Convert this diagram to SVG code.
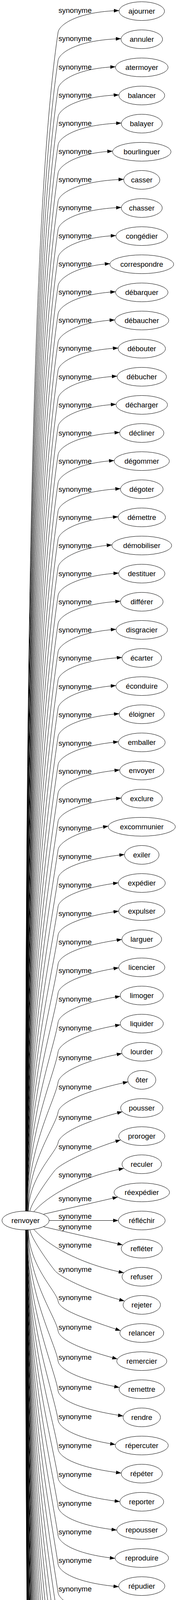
<svg xmlns="http://www.w3.org/2000/svg" width="482" height="6251" viewBox="0 0 482 6251">
<style>
.nd ellipse{fill:none;stroke:#000;stroke-width:1}
text{font-family:"Liberation Sans",Arial,sans-serif;font-size:18.67px;text-anchor:middle;fill:#000}
#edges path{fill:none;stroke:#000;stroke-width:1;marker-end:url(#ah)}
</style>
<defs>
<marker id="ah" viewBox="0 0 13.3 9.34" refX="13.3" refY="4.67" markerWidth="13.3" markerHeight="9.34" markerUnits="userSpaceOnUse" orient="auto"><path d="M0,0 L13.3,4.67 L0,9.34 Z" fill="#000"/></marker>
</defs>
<rect width="482" height="6251" fill="#fff"/>
<g id="edges">
<g id="e1"><path d="M65.5,3101 C65.5,1591.5 85.6,504.7 149,82 C153,62 200,30 305.3,27"/><text x="192.5" y="33.3">synonyme</text></g>
<g id="e2"><path d="M65.6,3101 C65.6,1627.5 87.1,566.7 149,154.1 C153,134.1 200,102.2 310.3,99"/><text x="192.5" y="105.4">synonyme</text></g>
<g id="e3"><path d="M65.7,3101 C65.7,1663.6 88.6,628.7 149,226.2 C153,206.2 200,174.4 296.1,171"/><text x="192.5" y="177.5">synonyme</text></g>
<g id="e4"><path d="M65.9,3101 C65.9,1699.7 90.1,690.7 149,298.3 C153,278.3 200,246.5 304.8,243"/><text x="192.5" y="249.6">synonyme</text></g>
<g id="e5"><path d="M66,3101 C66,1735.7 91.7,752.7 149,370.4 C153,350.4 200,318.7 311.1,315"/><text x="192.5" y="321.7">synonyme</text></g>
<g id="e6"><path d="M66.1,3101 C66.1,1771.8 93.2,814.7 149,442.5 C153,422.5 200,390.9 288.6,387"/><text x="192.5" y="393.8">synonyme</text></g>
<g id="e7"><path d="M66.2,3101 C66.2,1807.8 94.7,876.6 149,514.5 C153,494.5 200,463.1 317.3,459"/><text x="192.5" y="465.8">synonyme</text></g>
<g id="e8"><path d="M66.3,3101 C66.3,1843.8 96.2,938.6 149,586.6 C153,566.6 200,535.3 311.1,531"/><text x="192.5" y="537.9">synonyme</text></g>
<g id="e9"><path d="M66.5,3101 C66.5,1879.9 97.7,1000.6 149,658.7 C153,638.7 200,607.4 297.3,603"/><text x="192.5" y="610">synonyme</text></g>
<g id="e10"><path d="M66.6,3101 C66.6,1915.9 99.2,1062.6 149,730.8 C153,710.8 200,679.6 281.9,675"/><text x="192.5" y="682.1">synonyme</text></g>
<g id="e11"><path d="M66.7,3101 C66.7,1952 100.7,1124.6 149,802.9 C153,782.9 200,751.8 296.3,747"/><text x="192.5" y="754.2">synonyme</text></g>
<g id="e12"><path d="M66.8,3101 C66.8,1988 102.3,1186.6 149,875 C153,855 200,824 294.4,819"/><text x="192.5" y="826.3">synonyme</text></g>
<g id="e13"><path d="M66.9,3101 C66.9,2024.1 103.8,1248.6 149,947.1 C153,927.1 200,896.2 302.8,891"/><text x="192.5" y="898.4">synonyme</text></g>
<g id="e14"><path d="M67.1,3101 C67.1,2060.1 105.3,1310.7 149,1019.2 C153,999.2 200,968.3 300.3,963"/><text x="192.5" y="970.5">synonyme</text></g>
<g id="e15"><path d="M67.2,3101 C67.2,2096.2 106.8,1372.7 149,1091.3 C153,1071.3 200,1040.5 297.6,1035"/><text x="192.5" y="1042.6">synonyme</text></g>
<g id="e16"><path d="M67.3,3101 C67.3,2132.2 108.3,1434.7 149,1163.4 C153,1143.4 200,1112.7 306.9,1107"/><text x="192.5" y="1114.7">synonyme</text></g>
<g id="e17"><path d="M67.4,3101 C67.4,2168.2 109.8,1496.6 149,1235.4 C153,1215.4 200,1184.9 292.8,1179"/><text x="192.5" y="1186.7">synonyme</text></g>
<g id="e18"><path d="M67.5,3101 C67.5,2204.3 111.3,1558.6 149,1307.5 C153,1287.5 200,1257.1 308.9,1251"/><text x="192.5" y="1258.8">synonyme</text></g>
<g id="e19"><path d="M67.7,3101 C67.7,2240.3 112.9,1620.6 149,1379.6 C153,1359.6 200,1329.2 302.8,1323"/><text x="192.5" y="1330.9">synonyme</text></g>
<g id="e20"><path d="M67.8,3101 C67.8,2276.4 114.4,1682.6 149,1451.7 C153,1431.7 200,1401.4 286.9,1395"/><text x="192.5" y="1403">synonyme</text></g>
<g id="e21"><path d="M67.9,3101 C67.9,2312.4 115.9,1744.6 149,1523.8 C153,1503.8 200,1473.6 304.3,1467"/><text x="192.5" y="1475.1">synonyme</text></g>
<g id="e22"><path d="M68,3101 C68,2348.5 117.4,1806.6 149,1595.9 C153,1575.9 200,1545.8 308.9,1539"/><text x="192.5" y="1547.2">synonyme</text></g>
<g id="e23"><path d="M68.1,3101 C68.1,2384.5 118.9,1868.6 149,1668 C153,1648 200,1618 297.6,1611"/><text x="192.5" y="1619.3">synonyme</text></g>
<g id="e24"><path d="M68.3,3101 C68.3,2420.6 120.4,1930.6 149,1740.1 C153,1720.1 200,1690.1 312.8,1683"/><text x="192.5" y="1691.4">synonyme</text></g>
<g id="e25"><path d="M68.4,3101 C68.4,2456.6 121.9,1992.6 149,1812.2 C153,1792.2 200,1762.3 297.3,1755"/><text x="192.5" y="1763.5">synonyme</text></g>
<g id="e26"><path d="M68.5,3101 C68.5,2492.9 123.5,2055 149,1884.7 C153,1864.7 200,1835.4 305.6,1827"/><text x="192.5" y="1836">synonyme</text></g>
<g id="e27"><path d="M68.6,3101 C68.6,2529.1 125,2117.3 149,1957.2 C153,1937.2 200,1908.4 303.6,1899"/><text x="192.5" y="1908.5">synonyme</text></g>
<g id="e28"><path d="M68.7,3101 C68.7,2565.4 126.5,2179.7 149,2029.7 C153,2009.7 200,1981.4 306.9,1971"/><text x="192.5" y="1981">synonyme</text></g>
<g id="e29"><path d="M68.9,3101 C68.9,2601.6 128,2242 149,2102.2 C153,2082.2 200,2054.4 310.9,2043"/><text x="192.5" y="2053.5">synonyme</text></g>
<g id="e30"><path d="M69,3101 C69,2637.9 129.5,2304.5 149,2174.8 C153,2154.8 200,2127.6 277.6,2115"/><text x="192.5" y="2126.1">synonyme</text></g>
<g id="e31"><path d="M69.1,3101 C69.1,2674.3 131.1,2367 149,2247.5 C153,2227.5 200,2200.5 319.3,2187.5"/><text x="192.5" y="2198.8">synonyme</text></g>
<g id="e32"><path d="M69.2,3101 C69.2,2710.6 132.6,2429.5 149,2320.2 C153,2300.2 200,2273.4 303.3,2260"/><text x="192.5" y="2271.5">synonyme</text></g>
<g id="e33"><path d="M69.3,3101 C69.3,2747.1 134.1,2492.3 149,2393.2 C153,2373.2 200,2346.9 304.3,2332.5"/><text x="192.5" y="2344.5">synonyme</text></g>
<g id="e34"><path d="M69.5,3101 C69.5,2784.1 135.7,2555.9 149,2467.2 C153,2447.2 200,2420 312.5,2405"/><text x="192.5" y="2417.5">synonyme</text></g>
<g id="e35"><path d="M69.6,3101 C69.6,2820.3 137.3,2619.8 149,2541.5 C153,2521.5 200,2493.8 304.4,2477.5"/><text x="192.5" y="2490.8">synonyme</text></g>
<g id="e36"><path d="M69.7,3101 C69.7,2858.8 138.8,2684.3 149,2616.5 C153,2596.5 200,2567.2 308.4,2550.5"/><text x="192.5" y="2564.3">synonyme</text></g>
<g id="e37"><path d="M69.8,3101 C69.8,2896.7 140.4,2749.5 149,2692.3 C153,2672.3 200,2641.1 308.6,2623.5"/><text x="192.5" y="2638.1">synonyme</text></g>
<g id="e38"><path d="M71,3101 C71,2935.5 142,2816.3 149,2769.9 C153,2749.9 200,2718 312.7,2697"/><text x="192.5" y="2713.7">synonyme</text></g>
<g id="e39"><path d="M72,3101 C72,2973.8 143.7,2882.2 149,2846.6 C153,2826.6 200,2796.6 328.3,2769.5"/><text x="192.5" y="2789.4">synonyme</text></g>
<g id="e40"><path d="M73,3101 C73,3013 145.3,2949.6 149,2924.9 C153,2904.9 200,2875.5 313.7,2846"/><text x="192.5" y="2867.2">synonyme</text></g>
<g id="e41"><path d="M76.7,3100.5 C80,3080 118,3025 140,2997 C155.5,2977.3 238.9,2938.7 309.3,2918.2"/><text x="192.5" y="2942.2">synonyme</text></g>
<g id="e42"><path d="M86.7,3102 C125,3058 210,3012 317.6,2991"/><text x="192.5" y="3014.3">synonyme</text></g>
<g id="e43"><path d="M111.7,3108.3 L301.8,3064.5"/><text x="192.5" y="3074.8">synonyme</text></g>
<g id="e44"><path d="M126,3124.5 L303.5,3124.5"/><text x="192.5" y="3119.5">synonyme</text></g>
<g id="e45"><path d="M111.7,3140.5 L314.5,3187"/><text x="192.5" y="3146.9">synonyme</text></g>
<g id="e46"><path d="M86.7,3147 C125,3191 210,3237 317.6,3258.3"/><text x="192.5" y="3194.4">synonyme</text></g>
<g id="e47"><path d="M76.7,3148.5 C80,3169 118,3224 140,3252 C155.5,3271.7 240,3310.3 319,3330.5"/><text x="192.5" y="3256.4">synonyme</text></g>
<g id="e48"><path d="M73,3148.2 C73,3239.7 145.2,3305.6 149,3331.2 C153,3351.2 195,3368.7 309,3406.5"/><text x="192.5" y="3327.7">synonyme</text></g>
<g id="e49"><path d="M72,3148.2 C72,3277.9 143.6,3371.3 149,3407.6 C153,3427.6 195,3450.9 301,3479"/><text x="192.5" y="3404.1">synonyme</text></g>
<g id="e50"><path d="M71,3148.2 C71,3316.5 141.9,3437.7 149,3484.8 C153,3504.8 195,3530.2 306.2,3552"/><text x="192.5" y="3481.3">synonyme</text></g>
<g id="e51"><path d="M69.8,3148.2 C69.8,3354.7 140.3,3503.3 149,3561.1 C153,3581.1 195,3606.7 316,3625"/><text x="192.5" y="3557.6">synonyme</text></g>
<g id="e52"><path d="M69.7,3148.2 C69.7,3392.2 138.8,3567.8 149,3636.1 C153,3656.1 195,3682.3 295.8,3698"/><text x="192.5" y="3632.6">synonyme</text></g>
<g id="e53"><path d="M69.6,3148.2 C69.6,3429.4 137.2,3631.8 149,3710.5 C153,3730.5 195,3757.1 310.8,3771"/><text x="192.5" y="3707">synonyme</text></g>
<g id="e54"><path d="M69.5,3148.2 C69.5,3466.4 135.6,3695.4 149,3784.5 C153,3804.5 195,3831.4 307.3,3844"/><text x="192.5" y="3781">synonyme</text></g>
<g id="e55"><path d="M69.3,3148.2 C69.3,3503.2 134.1,3758.8 149,3858.2 C153,3878.2 195,3905.1 299.3,3917"/><text x="192.5" y="3854.7">synonyme</text></g>
<g id="e56"><path d="M69.2,3148.2 C69.2,3539.9 132.5,3821.9 149,3931.6 C153,3951.6 195,3978.9 294.9,3989.5"/><text x="192.5" y="3928.1">synonyme</text></g>
<g id="e57"><path d="M69.1,3148.2 C69.1,3576.5 131,3884.9 149,4004.8 C153,4024.8 195,4052.3 304.4,4062"/><text x="192.5" y="4001.3">synonyme</text></g>
<g id="e58"><path d="M69,3148.2 C69,3613 129.5,3947.7 149,4077.8 C153,4097.8 195,4125.4 303.4,4134.5"/><text x="192.5" y="4074.3">synonyme</text></g>
<g id="e59"><path d="M68.9,3148.2 C68.9,3649.4 127.9,4010.3 149,4150.6 C153,4170.6 195,4198.2 308.5,4207"/><text x="192.5" y="4147.1">synonyme</text></g>
<g id="e60"><path d="M68.7,3148.2 C68.7,3685.8 126.4,4072.8 149,4223.3 C153,4243.3 195,4270.9 311.6,4279.5"/><text x="192.5" y="4219.8">synonyme</text></g>
<g id="e61"><path d="M68.6,3148.2 C68.6,3722.1 124.9,4135.2 149,4295.9 C153,4315.9 195,4343.9 302,4351.5"/><text x="192.5" y="4292.4">synonyme</text></g>
<g id="e62"><path d="M68.5,3148.2 C68.5,3758.3 123.4,4197.6 149,4368.4 C153,4388.4 195,4416.6 294.1,4423.5"/><text x="192.5" y="4364.9">synonyme</text></g>
<g id="e63"><path d="M68.4,3148.2 C68.4,3794.5 121.9,4259.8 149,4440.8 C153,4460.8 195,4489.4 302.3,4495.5"/><text x="192.5" y="4437.3">synonyme</text></g>
<g id="e64"><path d="M68.3,3148.2 C68.3,3830.7 120.3,4322.1 149,4513.2 C153,4533.2 195,4562 314.7,4567.5"/><text x="192.5" y="4509.7">synonyme</text></g>
<g id="e65"><path d="M68.1,3148.2 C68.1,3866.9 118.8,4384.3 149,4585.5 C153,4605.5 195,4634.6 307.8,4639.5"/><text x="192.5" y="4582">synonyme</text></g>
<g id="e66"><path d="M68,3148.2 C68,3903 117.3,4446.5 149,4657.8 C153,4677.8 195,4707 297,4711.5"/><text x="192.5" y="4654.3">synonyme</text></g>
<g id="e67"><path d="M67.9,3148.2 C67.9,3939.1 115.8,4508.5 149,4730 C153,4750 195,4779.1 318.6,4783.5"/><text x="192.5" y="4726.5">synonyme</text></g>
<g id="e68"><path d="M67.8,3148.2 C67.8,3975.2 114.3,4570.6 149,4802.1 C153,4822.1 195,4851.2 294.1,4855.5"/><text x="192.5" y="4798.6">synonyme</text></g>
<g id="e69"><path d="M67.7,3148.2 C67.7,4011.2 112.8,4632.5 149,4874.1 C153,4894.1 195,4923.3 290.8,4927.5"/><text x="192.5" y="4870.6">synonyme</text></g>
<g id="e70"><path d="M67.6,3148.2 C67.6,4047.2 111.2,4694.5 149,4946.2 C153,4966.2 195,4995.4 293.4,4999.5"/><text x="192.5" y="4942.6">synonyme</text></g>
<g id="e71"><path d="M67.4,3148.2 C67.4,4083.2 109.7,4756.4 149,5018.2 C153,5038.2 195,5067.5 322.1,5071.5"/><text x="192.5" y="5014.7">synonyme</text></g>
<g id="e72"><path d="M67.3,3148.2 C67.3,4119.3 108.2,4818.4 149,5090.3 C153,5110.3 195,5139.5 325.1,5143.5"/><text x="192.5" y="5086.8">synonyme</text></g>
<g id="e73"><path d="M67.2,3148.2 C67.2,4155.3 106.7,4880.3 149,5162.3 C153,5182.3 195,5211.6 298.5,5215.5"/><text x="192.5" y="5158.8">synonyme</text></g>
<g id="e74"><path d="M67.1,3148.2 C67.1,4191.3 105.2,4942.3 149,5234.4 C153,5254.4 195,5283.7 280.9,5287.5"/><text x="192.5" y="5230.9">synonyme</text></g>
<g id="e75"><path d="M67,3148.2 C67,4227.3 103.7,5004.3 149,5306.4 C153,5326.4 195,5355.8 251.9,5359.5"/><text x="192.5" y="5302.9">synonyme</text></g>
<g id="e76"><path d="M66.9,3148.2 C66.9,4263.4 102.2,5066.3 149,5378.5 C153,5398.5 195,5427.9 266,5431.5"/><text x="192.5" y="5375">synonyme</text></g>
<g id="e77"><path d="M66.7,3148.2 C66.7,4299.4 100.7,5128.2 149,5450.5 C153,5470.5 195,5500 265,5503.5"/><text x="192.5" y="5447">synonyme</text></g>
<g id="e78"><path d="M66.6,3148.2 C66.6,4335.4 99.1,5190.2 149,5522.6 C153,5542.6 195,5572.1 264.6,5575.5"/><text x="192.5" y="5519.1">synonyme</text></g>
<g id="e79"><path d="M66.5,3148.2 C66.5,4371.4 97.6,5252.1 149,5594.6 C153,5614.6 195,5644.2 278.9,5647.5"/><text x="192.5" y="5591.1">synonyme</text></g>
<g id="e80"><path d="M66.3,3148.2 C66.3,4407.5 96.1,5314.1 149,5666.7 C153,5686.7 195,5716.3 264,5719.5"/><text x="192.5" y="5663.2">synonyme</text></g>
<g id="e81"><path d="M66.2,3148.2 C66.2,4443.5 94.6,5376 149,5738.7 C153,5758.7 195,5788.4 278.9,5791.5"/><text x="192.5" y="5735.2">synonyme</text></g>
<g id="e82"><path d="M66.1,3148.2 C66.1,4479.5 93.1,5438 149,5810.8 C153,5830.8 195,5860.4 253.2,5863.5"/><text x="192.5" y="5807.3">synonyme</text></g>
<g id="e83"><path d="M66,3148.2 C66,4515.5 91.6,5500 149,5882.8 C153,5902.8 195,5932.5 280,5935.5"/><text x="192.5" y="5879.4">synonyme</text></g>
<g id="e84"><path d="M65.9,3148.2 C65.9,4551.6 90.1,5562 149,5954.9 C153,5974.9 195,6004.6 255.2,6007.5"/><text x="192.5" y="5951.4">synonyme</text></g>
<g id="e85"><path d="M65.7,3148.2 C65.7,4587.6 88.5,5623.9 149,6026.9 C153,6046.9 195,6076.7 297.7,6079.5"/><text x="192.5" y="6023.5">synonyme</text></g>
<g id="e86"><path d="M65.6,3148.2 C65.6,4623.6 87,5685.9 149,6099 C153,6119 195,6148.8 281.9,6151.5"/><text x="192.5" y="6095.6">synonyme</text></g>
<g id="e87"><path d="M65.5,3148.2 C65.5,4659.6 85.5,5747.8 149,6171 C153,6191 195,6220.9 268.1,6223.5"/><text x="192.5" y="6167.5">synonyme</text></g>
</g>
<g id="n0" class="nd" transform="translate(65.5 3124.5)"><ellipse rx="60.5" ry="24"/><text y="6.5">renvoyer</text></g>
<g id="n1" class="nd" transform="translate(363.5 28.5)"><ellipse rx="58.3" ry="24"/><text y="6.5">ajourner</text></g>
<g id="n2" class="nd" transform="translate(363.5 100.5)"><ellipse rx="53.3" ry="24"/><text y="6.5">annuler</text></g>
<g id="n3" class="nd" transform="translate(363.5 172.5)"><ellipse rx="67.5" ry="24"/><text y="6.5">atermoyer</text></g>
<g id="n4" class="nd" transform="translate(363.5 244.5)"><ellipse rx="58.8" ry="24"/><text y="6.5">balancer</text></g>
<g id="n5" class="nd" transform="translate(363.5 316.5)"><ellipse rx="52.5" ry="24"/><text y="6.5">balayer</text></g>
<g id="n6" class="nd" transform="translate(363.5 388.5)"><ellipse rx="75" ry="24"/><text y="6.5">bourlinguer</text></g>
<g id="n7" class="nd" transform="translate(363.5 460.5)"><ellipse rx="46.3" ry="24"/><text y="6.5">casser</text></g>
<g id="n8" class="nd" transform="translate(363.5 532.5)"><ellipse rx="52.5" ry="24"/><text y="6.5">chasser</text></g>
<g id="n9" class="nd" transform="translate(363.5 604.5)"><ellipse rx="66.3" ry="24"/><text y="6.5">congédier</text></g>
<g id="n10" class="nd" transform="translate(363.5 676.5)"><ellipse rx="81.7" ry="24"/><text y="6.5">correspondre</text></g>
<g id="n11" class="nd" transform="translate(363.5 748.5)"><ellipse rx="67.3" ry="24"/><text y="6.5">débarquer</text></g>
<g id="n12" class="nd" transform="translate(363.5 820.5)"><ellipse rx="69.2" ry="24"/><text y="6.5">débaucher</text></g>
<g id="n13" class="nd" transform="translate(363.5 892.5)"><ellipse rx="60.8" ry="24"/><text y="6.5">débouter</text></g>
<g id="n14" class="nd" transform="translate(363.5 964.5)"><ellipse rx="63.3" ry="24"/><text y="6.5">débucher</text></g>
<g id="n15" class="nd" transform="translate(363.5 1036.5)"><ellipse rx="66" ry="24"/><text y="6.5">décharger</text></g>
<g id="n16" class="nd" transform="translate(363.5 1108.5)"><ellipse rx="56.7" ry="24"/><text y="6.5">décliner</text></g>
<g id="n17" class="nd" transform="translate(363.5 1180.5)"><ellipse rx="70.8" ry="24"/><text y="6.5">dégommer</text></g>
<g id="n18" class="nd" transform="translate(363.5 1252.5)"><ellipse rx="54.7" ry="24"/><text y="6.5">dégoter</text></g>
<g id="n19" class="nd" transform="translate(363.5 1324.5)"><ellipse rx="60.8" ry="24"/><text y="6.5">démettre</text></g>
<g id="n20" class="nd" transform="translate(363.5 1396.5)"><ellipse rx="76.7" ry="24"/><text y="6.5">démobiliser</text></g>
<g id="n21" class="nd" transform="translate(363.5 1468.5)"><ellipse rx="59.3" ry="24"/><text y="6.5">destituer</text></g>
<g id="n22" class="nd" transform="translate(363.5 1540.5)"><ellipse rx="54.7" ry="24"/><text y="6.5">différer</text></g>
<g id="n23" class="nd" transform="translate(363.5 1612.5)"><ellipse rx="66" ry="24"/><text y="6.5">disgracier</text></g>
<g id="n24" class="nd" transform="translate(363.5 1684.5)"><ellipse rx="50.8" ry="24"/><text y="6.5">écarter</text></g>
<g id="n25" class="nd" transform="translate(363.5 1756.5)"><ellipse rx="66.3" ry="24"/><text y="6.5">éconduire</text></g>
<g id="n26" class="nd" transform="translate(363.5 1828.5)"><ellipse rx="58" ry="24"/><text y="6.5">éloigner</text></g>
<g id="n27" class="nd" transform="translate(363.5 1900.5)"><ellipse rx="60" ry="24"/><text y="6.5">emballer</text></g>
<g id="n28" class="nd" transform="translate(363.5 1972.5)"><ellipse rx="56.7" ry="24"/><text y="6.5">envoyer</text></g>
<g id="n29" class="nd" transform="translate(363.5 2044.5)"><ellipse rx="52.7" ry="24"/><text y="6.5">exclure</text></g>
<g id="n30" class="nd" transform="translate(363.5 2116.5)"><ellipse rx="86" ry="24"/><text y="6.5">excommunier</text></g>
<g id="n31" class="nd" transform="translate(363.5 2188.5)"><ellipse rx="44.3" ry="24"/><text y="6.5">exiler</text></g>
<g id="n32" class="nd" transform="translate(363.5 2260.5)"><ellipse rx="60.3" ry="24"/><text y="6.5">expédier</text></g>
<g id="n33" class="nd" transform="translate(363.5 2332.5)"><ellipse rx="59.2" ry="24"/><text y="6.5">expulser</text></g>
<g id="n34" class="nd" transform="translate(363.5 2404.5)"><ellipse rx="51" ry="24"/><text y="6.5">larguer</text></g>
<g id="n35" class="nd" transform="translate(363.5 2476.5)"><ellipse rx="59.2" ry="24"/><text y="6.5">licencier</text></g>
<g id="n36" class="nd" transform="translate(363.5 2548.5)"><ellipse rx="55.3" ry="24"/><text y="6.5">limoger</text></g>
<g id="n37" class="nd" transform="translate(363.5 2620.5)"><ellipse rx="55.3" ry="24"/><text y="6.5">liquider</text></g>
<g id="n38" class="nd" transform="translate(363.5 2692.5)"><ellipse rx="51.7" ry="24"/><text y="6.5">lourder</text></g>
<g id="n39" class="nd" transform="translate(363.5 2764.5)"><ellipse rx="36" ry="24"/><text y="6.5">ôter</text></g>
<g id="n40" class="nd" transform="translate(363.5 2836.5)"><ellipse rx="54.2" ry="24"/><text y="6.5">pousser</text></g>
<g id="n41" class="nd" transform="translate(363.5 2908.5)"><ellipse rx="59.2" ry="24"/><text y="6.5">proroger</text></g>
<g id="n42" class="nd" transform="translate(363.5 2980.5)"><ellipse rx="50.7" ry="24"/><text y="6.5">reculer</text></g>
<g id="n43" class="nd" transform="translate(363.5 3052.5)"><ellipse rx="71.2" ry="24"/><text y="6.5">réexpédier</text></g>
<g id="n44" class="nd" transform="translate(363.5 3124.5)"><ellipse rx="60" ry="24"/><text y="6.5">réfléchir</text></g>
<g id="n45" class="nd" transform="translate(363.5 3196.5)"><ellipse rx="52.7" ry="24"/><text y="6.5">refléter</text></g>
<g id="n46" class="nd" transform="translate(363.5 3268.5)"><ellipse rx="50.7" ry="24"/><text y="6.5">refuser</text></g>
<g id="n47" class="nd" transform="translate(363.5 3340.5)"><ellipse rx="48" ry="24"/><text y="6.5">rejeter</text></g>
<g id="n48" class="nd" transform="translate(363.5 3412.5)"><ellipse rx="56.3" ry="24"/><text y="6.5">relancer</text></g>
<g id="n49" class="nd" transform="translate(363.5 3484.5)"><ellipse rx="64.2" ry="24"/><text y="6.5">remercier</text></g>
<g id="n50" class="nd" transform="translate(363.5 3556.5)"><ellipse rx="58.3" ry="24"/><text y="6.5">remettre</text></g>
<g id="n51" class="nd" transform="translate(363.5 3628.5)"><ellipse rx="48" ry="24"/><text y="6.5">rendre</text></g>
<g id="n52" class="nd" transform="translate(363.5 3700.5)"><ellipse rx="68" ry="24"/><text y="6.5">répercuter</text></g>
<g id="n53" class="nd" transform="translate(363.5 3772.5)"><ellipse rx="52.8" ry="24"/><text y="6.5">répéter</text></g>
<g id="n54" class="nd" transform="translate(363.5 3844.5)"><ellipse rx="56.2" ry="24"/><text y="6.5">reporter</text></g>
<g id="n55" class="nd" transform="translate(363.5 3916.5)"><ellipse rx="64.2" ry="24"/><text y="6.5">repousser</text></g>
<g id="n56" class="nd" transform="translate(363.5 3988.5)"><ellipse rx="68.7" ry="24"/><text y="6.5">reproduire</text></g>
<g id="n57" class="nd" transform="translate(363.5 4060.5)"><ellipse rx="59.2" ry="24"/><text y="6.5">répudier</text></g>
<g id="n58" class="nd" transform="translate(363.5 4132.5)"><ellipse rx="60.3" ry="24"/><text y="6.5">résonner</text></g>
<g id="n59" class="nd" transform="translate(363.5 4204.5)"><ellipse rx="55.3" ry="24"/><text y="6.5">retarder</text></g>
<g id="n60" class="nd" transform="translate(363.5 4276.5)"><ellipse rx="52.3" ry="24"/><text y="6.5">retentir</text></g>
<g id="n61" class="nd" transform="translate(363.5 4348.5)"><ellipse rx="62" ry="24"/><text y="6.5">retourner</text></g>
<g id="n62" class="nd" transform="translate(363.5 4420.5)"><ellipse rx="70" ry="24"/><text y="6.5">réverbérer</text></g>
<g id="n63" class="nd" transform="translate(363.5 4492.5)"><ellipse rx="61.7" ry="24"/><text y="6.5">révoquer</text></g>
<g id="n64" class="nd" transform="translate(363.5 4564.5)"><ellipse rx="49.2" ry="24"/><text y="6.5">saquer</text></g>
<g id="n65" class="nd" transform="translate(363.5 4636.5)"><ellipse rx="56.2" ry="24"/><text y="6.5">surseoir</text></g>
<g id="n66" class="nd" transform="translate(363.5 4708.5)"><ellipse rx="67" ry="24"/><text y="6.5">suspendre</text></g>
<g id="n67" class="nd" transform="translate(363.5 4780.5)"><ellipse rx="45.3" ry="24"/><text y="6.5">tarder</text></g>
<g id="n68" class="nd" transform="translate(363.5 4852.5)"><ellipse rx="70" ry="24"/><text y="6.5">temporiser</text></g>
<g id="n69" class="nd" transform="translate(363.5 4924.5)"><ellipse rx="73.3" ry="24"/><text y="6.5">transmettre</text></g>
<g id="n70" class="nd" transform="translate(363.5 4996.5)"><ellipse rx="70.7" ry="24"/><text y="6.5">transporter</text></g>
<g id="n71" class="nd" transform="translate(363.5 5068.5)"><ellipse rx="41.7" ry="24"/><text y="6.5">vider</text></g>
<g id="n72" class="nd" transform="translate(363.5 5140.5)"><ellipse rx="38.7" ry="24"/><text y="6.5">virer</text></g>
<g id="n73" class="nd" transform="translate(363.5 5212.5)"><ellipse rx="65.5" ry="24"/><text y="6.5">se défaire</text></g>
<g id="n74" class="nd" transform="translate(363.5 5284.5)"><ellipse rx="83.3" ry="24"/><text y="6.5">faire traîner</text></g>
<g id="n75" class="nd" transform="translate(363.5 5356.5)"><ellipse rx="112.5" ry="24"/><text y="6.5">donner son compte</text></g>
<g id="n76" class="nd" transform="translate(363.5 5428.5)"><ellipse rx="98.3" ry="24"/><text y="6.5">ficher à la porte</text></g>
<g id="n77" class="nd" transform="translate(363.5 5500.5)"><ellipse rx="99.3" ry="24"/><text y="6.5">foutre à la porte</text></g>
<g id="n78" class="nd" transform="translate(363.5 5572.5)"><ellipse rx="99.7" ry="24"/><text y="6.5">mettre à la porte</text></g>
<g id="n79" class="nd" transform="translate(363.5 5644.5)"><ellipse rx="85.3" ry="24"/><text y="6.5">mettre dehors</text></g>
<g id="n80" class="nd" transform="translate(363.5 5716.5)"><ellipse rx="100.3" ry="24"/><text y="6.5">casser aux gages</text></g>
<g id="n81" class="nd" transform="translate(363.5 5788.5)"><ellipse rx="85.3" ry="24"/><text y="6.5">donner congé</text></g>
<g id="n82" class="nd" transform="translate(363.5 5860.5)"><ellipse rx="111.2" ry="24"/><text y="6.5">flanquer à la porte</text></g>
<g id="n83" class="nd" transform="translate(363.5 5932.5)"><ellipse rx="84.2" ry="24"/><text y="6.5">mettre à pied</text></g>
<g id="n84" class="nd" transform="translate(363.5 6004.5)"><ellipse rx="109.2" ry="24"/><text y="6.5">envoyer promener</text></g>
<g id="n85" class="nd" transform="translate(363.5 6076.5)"><ellipse rx="66.3" ry="24"/><text y="6.5">faire écho</text></g>
<g id="n86" class="nd" transform="translate(363.5 6148.5)"><ellipse rx="82.3" ry="24"/><text y="6.5">ficher dehors</text></g>
<g id="n87" class="nd" transform="translate(363.5 6220.5)"><ellipse rx="96.2" ry="24"/><text y="6.5">flanquer dehors</text></g>
</svg>
